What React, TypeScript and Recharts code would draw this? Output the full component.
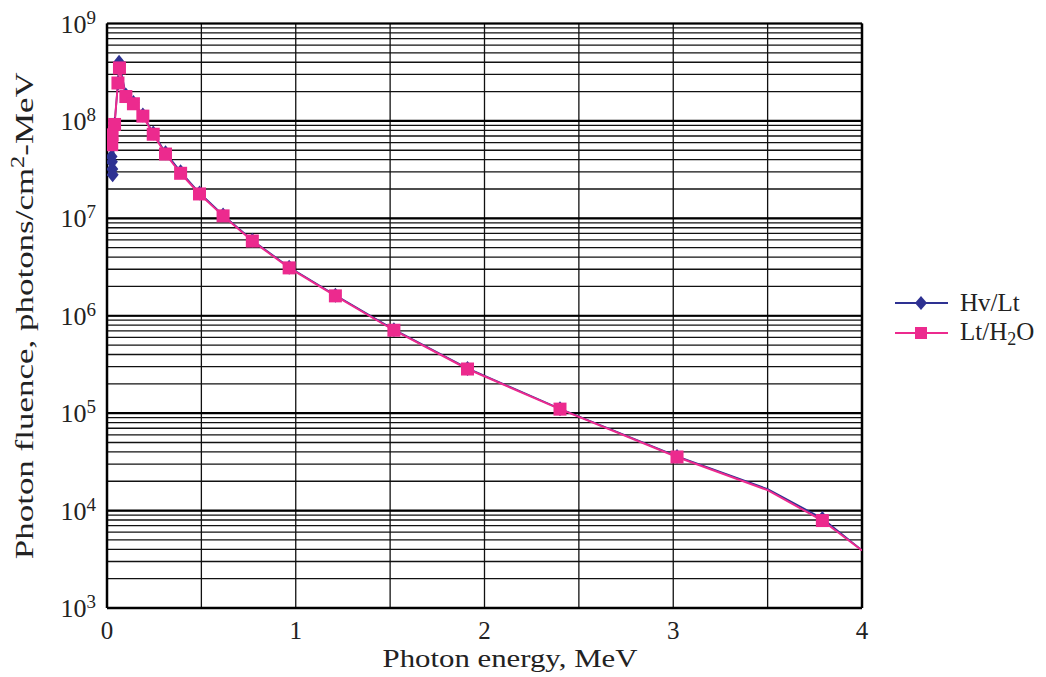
import React from "react";
import { LineChart, Line, XAxis, YAxis, CartesianGrid, ReferenceLine } from "recharts";

const BLUE = "#2E3192";
const PINK = "#EC2A8E";
const FONT = "'Liberation Serif', 'Times New Roman', serif";

// Hv/Lt series
const hvEnergy = [0.024, 0.026, 0.028, 0.03, 0.04, 0.058, 0.064, 0.1, 0.14, 0.19, 0.245, 0.31, 0.39, 0.49, 0.615, 0.77, 0.965, 1.21, 1.52, 1.91, 2.4, 3.02, 3.5, 3.79, 4.0];
const hvFluence = [4.3e7, 3.8e7, 3.2e7, 2.8e7, 9.2e7, 2.45e8, 4.0e8, 1.85e8, 1.55e8, 1.15e8, 7.5e7, 4.7e7, 3.0e7, 1.82e7, 1.08e7, 5.95e6, 3.15e6, 1.62e6, 7.2e5, 2.88e5, 1.11e5, 3.6e4, 1.66e4, 8.3e3, 3.9e3];
const hvMarked = [1, 1, 1, 1, 1, 1, 1, 1, 1, 1, 1, 1, 1, 1, 1, 1, 1, 1, 1, 1, 1, 1, 0, 1, 0];

// Lt/H2O series
const ltEnergy = [0.025, 0.027, 0.04, 0.058, 0.066, 0.1, 0.14, 0.19, 0.245, 0.31, 0.39, 0.49, 0.615, 0.77, 0.965, 1.21, 1.52, 1.91, 2.4, 3.02, 3.5, 3.79, 4.0];
const ltFluence = [5.7e7, 7.2e7, 9.2e7, 2.45e8, 3.5e8, 1.78e8, 1.5e8, 1.12e8, 7.3e7, 4.57e7, 2.9e7, 1.78e7, 1.06e7, 5.85e6, 3.1e6, 1.6e6, 7.1e5, 2.84e5, 1.1e5, 3.55e4, 1.62e4, 7.9e3, 3.9e3];
const ltMarked = [1, 1, 1, 1, 1, 1, 1, 1, 1, 1, 1, 1, 1, 1, 1, 1, 1, 1, 1, 1, 0, 1, 0];

// Axis ticks
const xTicks = [0, 0.5, 1, 1.5, 2, 2.5, 3, 3.5, 4];
const xLabels = [0, 1, 2, 3, 4];
const decades = [1e3, 1e4, 1e5, 1e6, 1e7, 1e8, 1e9];
const minorSteps = [1, 2, 3, 4, 5, 6, 7, 8, 9];

const yTicks: number[] = [];
decades.forEach((d, i) => {
  if (i === decades.length - 1) yTicks.push(d);
  else minorSteps.forEach((m) => yTicks.push(m * d));
});

const hvData = hvEnergy.map((e, i) => ({ e, v: hvFluence[i], m: hvMarked[i] }));
const ltData = ltEnergy.map((e, i) => ({ e, v: ltFluence[i], m: ltMarked[i] }));

const DiamondDot = (props: any) => {
  const { cx, cy, payload, index } = props;
  if (!payload || !payload.m || cx == null || cy == null) return <g key={"d" + index} />;
  const r = 7.5;
  return (
    <polygon
      key={"d" + index}
      points={`${cx},${cy - r} ${cx + r * 0.8},${cy} ${cx},${cy + r} ${cx - r * 0.8},${cy}`}
      fill={BLUE}
    />
  );
};

const SquareDot = (props: any) => {
  const { cx, cy, payload, index } = props;
  if (!payload || !payload.m || cx == null || cy == null) return <g key={"s" + index} />;
  const h = 6.5;
  return <rect key={"s" + index} x={cx - h} y={cy - h} width={2 * h} height={2 * h} fill={PINK} />;
};

const YTick = (props: any) => {
  const { x, y, payload } = props;
  const v = payload.value;
  const e = Math.round(Math.log10(v));
  if (Math.abs(Math.pow(10, e) - v) > 1e-6 * v) return <g />;
  return (
    <text x={x} y={y + 9} textAnchor="end" fontFamily={FONT} fontSize={26} fill="#222">
      10
      <tspan dy={-9} fontSize={19}>{e}</tspan>
    </text>
  );
};

const XTick = (props: any) => {
  const { x, y, payload } = props;
  const v = payload.value;
  if (!xLabels.includes(v)) return <g />;
  return (
    <text x={x} y={y + 31} textAnchor="middle" fontFamily={FONT} fontSize={25} fill="#222">
      {v}
    </text>
  );
};

const YLabel = (props: any) => {
  const vb = props.viewBox || {};
  const cy = vb.y + vb.height / 2;
  const cx = 33;
  return (
    <text
      transform={`rotate(-90 ${cx} ${cy})`}
      x={cx}
      y={cy}
      textAnchor="middle"
      fontFamily={FONT}
      fontSize={26}
      fill="#222"
      textLength={487}
      lengthAdjust="spacingAndGlyphs"
    >
      Photon fluence, photons/cm
      <tspan dy={-9} fontSize={18}>2</tspan>
      <tspan dy={9}>-MeV</tspan>
    </text>
  );
};

const XLabel = (props: any) => {
  const vb = props.viewBox || {};
  return (
    <text
      x={510}
      y={vb.y + 59}
      textAnchor="middle"
      fontFamily={FONT}
      fontSize={26}
      fill="#222"
      textLength={255}
      lengthAdjust="spacingAndGlyphs"
    >
      Photon energy, MeV
    </text>
  );
};

const LegendBox = () => (
  <div style={{ position: "absolute", left: 894, top: 288, width: 150, fontFamily: FONT, fontSize: 25, color: "#222" }}>
    <div style={{ display: "flex", alignItems: "center", height: 30 }}>
      <svg width={56} height={20} style={{ display: "block" }}>
        <line x1={1} y1={10} x2={54} y2={10} stroke={BLUE} strokeWidth={2} />
        <polygon points="27,3 33,10 27,17 21,10" fill={BLUE} />
      </svg>
      <span style={{ marginLeft: 10, lineHeight: "30px" }}>Hv/Lt</span>
    </div>
    <div style={{ display: "flex", alignItems: "center", height: 30 }}>
      <svg width={56} height={20} style={{ display: "block" }}>
        <line x1={1} y1={10} x2={54} y2={10} stroke={PINK} strokeWidth={2} />
        <rect x={21} y={4} width={12} height={12} fill={PINK} />
      </svg>
      <span style={{ marginLeft: 10, lineHeight: "30px" }}>
        Lt/H<span style={{ fontSize: 18, position: "relative", top: 5 }}>2</span>O
      </span>
    </div>
  </div>
);

export default function App() {
  return (
    <div style={{ position: "absolute", left: 0, top: 0, width: 1046, height: 677, background: "#fff" }}>
      <LineChart
        width={1046}
        height={677}
        margin={{ top: 23.5, right: 184, bottom: 29, left: 47 }}
      >
        <CartesianGrid stroke="#111" strokeWidth={1.3} horizontal vertical />
        <XAxis
          dataKey="e"
          type="number"
          domain={[0, 4]}
          ticks={xTicks}
          allowDataOverflow
          height={40}
          tickLine={false}
          tickSize={0}
          tickMargin={0}
          tick={<XTick />}
          axisLine={{ stroke: "#000", strokeWidth: 2.5 }}
          label={<XLabel />}
        />
        <YAxis
          dataKey="v"
          type="number"
          scale="log"
          domain={[1e3, 1e9]}
          ticks={yTicks}
          allowDataOverflow
          width={60}
          tickLine={false}
          tickSize={0}
          tickMargin={11}
          tick={<YTick />}
          interval={0}
          axisLine={{ stroke: "#000", strokeWidth: 2.5 }}
          label={<YLabel />}
        />
        {decades.map((d) => (
          <ReferenceLine key={"dec" + d} y={d} stroke="#000" strokeWidth={2.2} />
        ))}
        <ReferenceLine x={4} stroke="#000" strokeWidth={2.5} />
        <Line
          data={hvData}
          dataKey="v"
          name="Hv/Lt"
          stroke={BLUE}
          strokeWidth={1.8}
          dot={<DiamondDot />}
          activeDot={false}
          isAnimationActive={false}
        />
        <Line
          data={ltData}
          dataKey="v"
          name="Lt/H2O"
          stroke={PINK}
          strokeWidth={2}
          dot={<SquareDot />}
          activeDot={false}
          isAnimationActive={false}
        />
      </LineChart>
      <LegendBox />
    </div>
  );
}
